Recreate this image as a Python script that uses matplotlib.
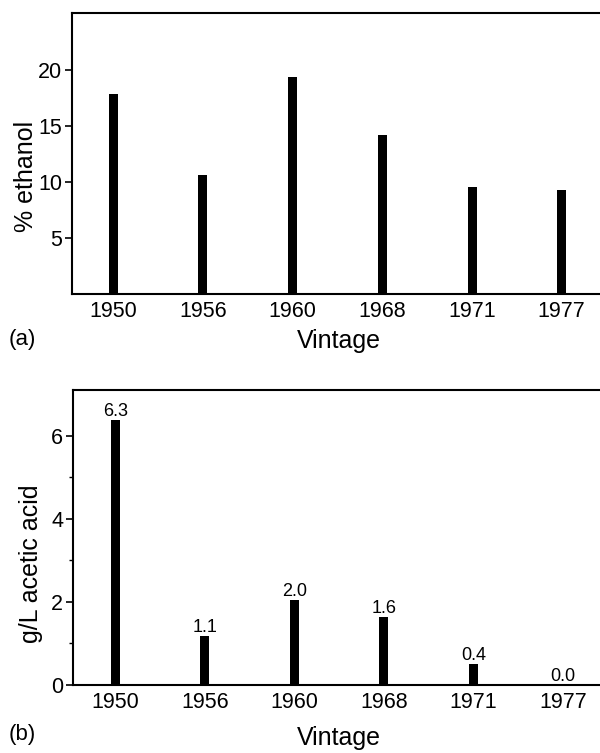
import numpy as np
import matplotlib.pyplot as plt

plt.rcParams['font.family'] = ['Liberation Sans', 'DejaVu Sans']

vintages = ['1950', '1956', '1960', '1968', '1971', '1977']
ethanol = [17.9, 10.6, 19.4, 14.2, 9.6, 9.3]
acetic = [6.38, 1.18, 2.05, 1.64, 0.5, 0.0]
acetic_labels = ['6.3', '1.1', '2.0', '1.6', '0.4', '0.0']

x = np.arange(len(vintages))

fig = plt.figure(figsize=(6, 7.53), dpi=100)
ax1 = fig.add_axes([0.12, 0.6096, 0.888, 0.3731])
ax2 = fig.add_axes([0.1217, 0.0903, 0.887, 0.3917])

for ax in (ax1, ax2):
    for s in ax.spines.values():
        s.set_linewidth(1.5)
    ax.tick_params(axis='y', direction='out', length=5, width=1.2, labelsize=15.5, pad=2)
    ax.tick_params(axis='x', length=0, labelsize=15.5, pad=5)
    ax.set_xticks(x)
    ax.set_xticklabels(vintages)

# (a) ethanol
ax1.bar(x, ethanol, width=0.1, color='black')
ax1.set_xlim(-0.46, 5.48)
ax1.set_ylim(0, 25.1)
ax1.set_yticks([5, 10, 15, 20])
ax1.set_ylabel('% ethanol', fontsize=18)
ax1.yaxis.set_label_coords(-0.064, 0.42)
ax1.set_xlabel('Vintage', fontsize=18)
ax1.xaxis.set_label_coords(0.5, -0.125)
fig.text(0.015, 0.549, '(a)', fontsize=16, ha='left', va='center')

# (b) acetic acid
ax2.bar(x, acetic, width=0.1, color='black')
ax2.set_xlim(-0.47, 5.47)
ax2.set_ylim(0, 7.1)
ax2.set_yticks([0, 2, 4, 6])
ax2.set_yticks([1, 3, 5], minor=True)
ax2.tick_params(axis='y', which='minor', direction='out', length=3, width=1)
ax2.set_ylabel('g/L acetic acid', fontsize=18)
ax2.yaxis.set_label_coords(-0.057, 0.41)
ax2.set_xlabel('Vintage', fontsize=18)
ax2.xaxis.set_label_coords(0.5, -0.138)
for xi, h, lab in zip(x, acetic, acetic_labels):
    ax2.text(xi, h, lab, ha='center', va='bottom', fontsize=13)
fig.text(0.015, 0.024, '(b)', fontsize=16, ha='left', va='center')

fig.savefig('out.png', dpi=100)
